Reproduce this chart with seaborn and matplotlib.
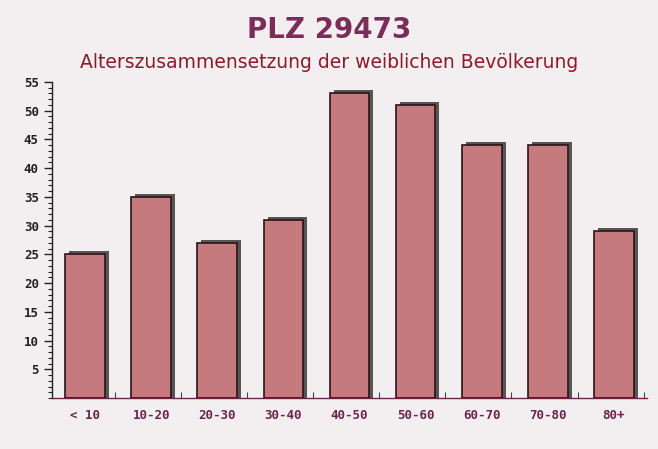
import matplotlib
matplotlib.use("Agg")
import matplotlib.pyplot as plt
import matplotlib.transforms as mtransforms
from matplotlib.patches import Rectangle
from matplotlib.ticker import MultipleLocator, FixedLocator
import seaborn as sns
import pandas as pd

categories = ["< 10", "10-20", "20-30", "30-40", "40-50", "50-60", "60-70", "70-80", "80+"]
values = [25, 35, 27, 31, 53, 51, 44, 44, 29]
yticks = [5, 10, 15, 20, 25, 30, 35, 40, 45, 50, 55]

title = "PLZ 29473"
subtitle = "Alterszusammensetzung der weiblichen Bevölkerung"

sns.set_style("white")
plt.rcParams['font.family'] = ['DejaVu Sans']

df = pd.DataFrame({"cat": categories, "val": values})

fig = plt.figure(figsize=(6.58, 4.49), dpi=100)
fig.patch.set_facecolor("#f3eff0")
ax = fig.add_axes([52/658, 51/449, 595/658, 316/449])
ax.set_facecolor("none")

sns.barplot(data=df, x="cat", y="val", ax=ax, color="#c57a7d", width=0.6,
            edgecolor="#2a1418", linewidth=1.2, saturation=1, zorder=3)

# shadows
shadow_tr = mtransforms.offset_copy(ax.transData, fig=fig, x=4, y=3, units="dots")
for p in list(ax.patches):
    x0, y0 = p.get_x(), p.get_y()
    w, h = p.get_width(), p.get_height()
    sh = Rectangle((x0, y0 - 2), w, h + 2, facecolor="#5a5555", edgecolor="none",
                   transform=shadow_tr, zorder=2)
    ax.add_patch(sh)
    sh.set_clip_box(ax.bbox)

ax.set_xlim(-0.5, len(categories) - 0.5)
ax.set_ylim(0, 55)
ax.set_yticks(yticks)
ax.yaxis.set_minor_locator(MultipleLocator(1))
ax.xaxis.set_minor_locator(FixedLocator([i + 0.45 for i in range(len(categories))]))
ax.set_xlabel("")
ax.set_ylabel("")

for s in ["top", "right"]:
    ax.spines[s].set_visible(False)
ax.spines["left"].set_color("#222222")
ax.spines["bottom"].set_color("#6b2450")
ax.spines["left"].set_linewidth(1.0)
ax.spines["bottom"].set_linewidth(1.0)

ax.tick_params(axis="y", which="major", length=6, width=1, color="#222222",
               direction="out", left=True)
ax.tick_params(axis="y", which="minor", length=3, width=0.8, color="#222222",
               direction="out", left=True)
ax.tick_params(axis="x", which="major", length=0, pad=8)
ax.tick_params(axis="x", which="minor", length=4, width=0.8, color="#444444",
               direction="in", bottom=True)

for lab in ax.get_yticklabels():
    lab.set_fontfamily("DejaVu Sans Mono")
    lab.set_fontweight("bold")
    lab.set_fontsize(9)
    lab.set_color("#222222")
for lab in ax.get_xticklabels():
    lab.set_fontfamily("DejaVu Sans Mono")
    lab.set_fontweight("bold")
    lab.set_fontsize(9)
    lab.set_color("#6b2450")

fig.text(0.5, 1 - 30/449, title, ha="center", va="center", fontsize=20,
         fontweight="bold", color="#7b2d5a")
fig.text(0.5, 1 - 62/449, subtitle, ha="center", va="center", fontsize=13.5,
         color="#8b1a2b")

fig.savefig("out.png", dpi=100, facecolor=fig.get_facecolor())
